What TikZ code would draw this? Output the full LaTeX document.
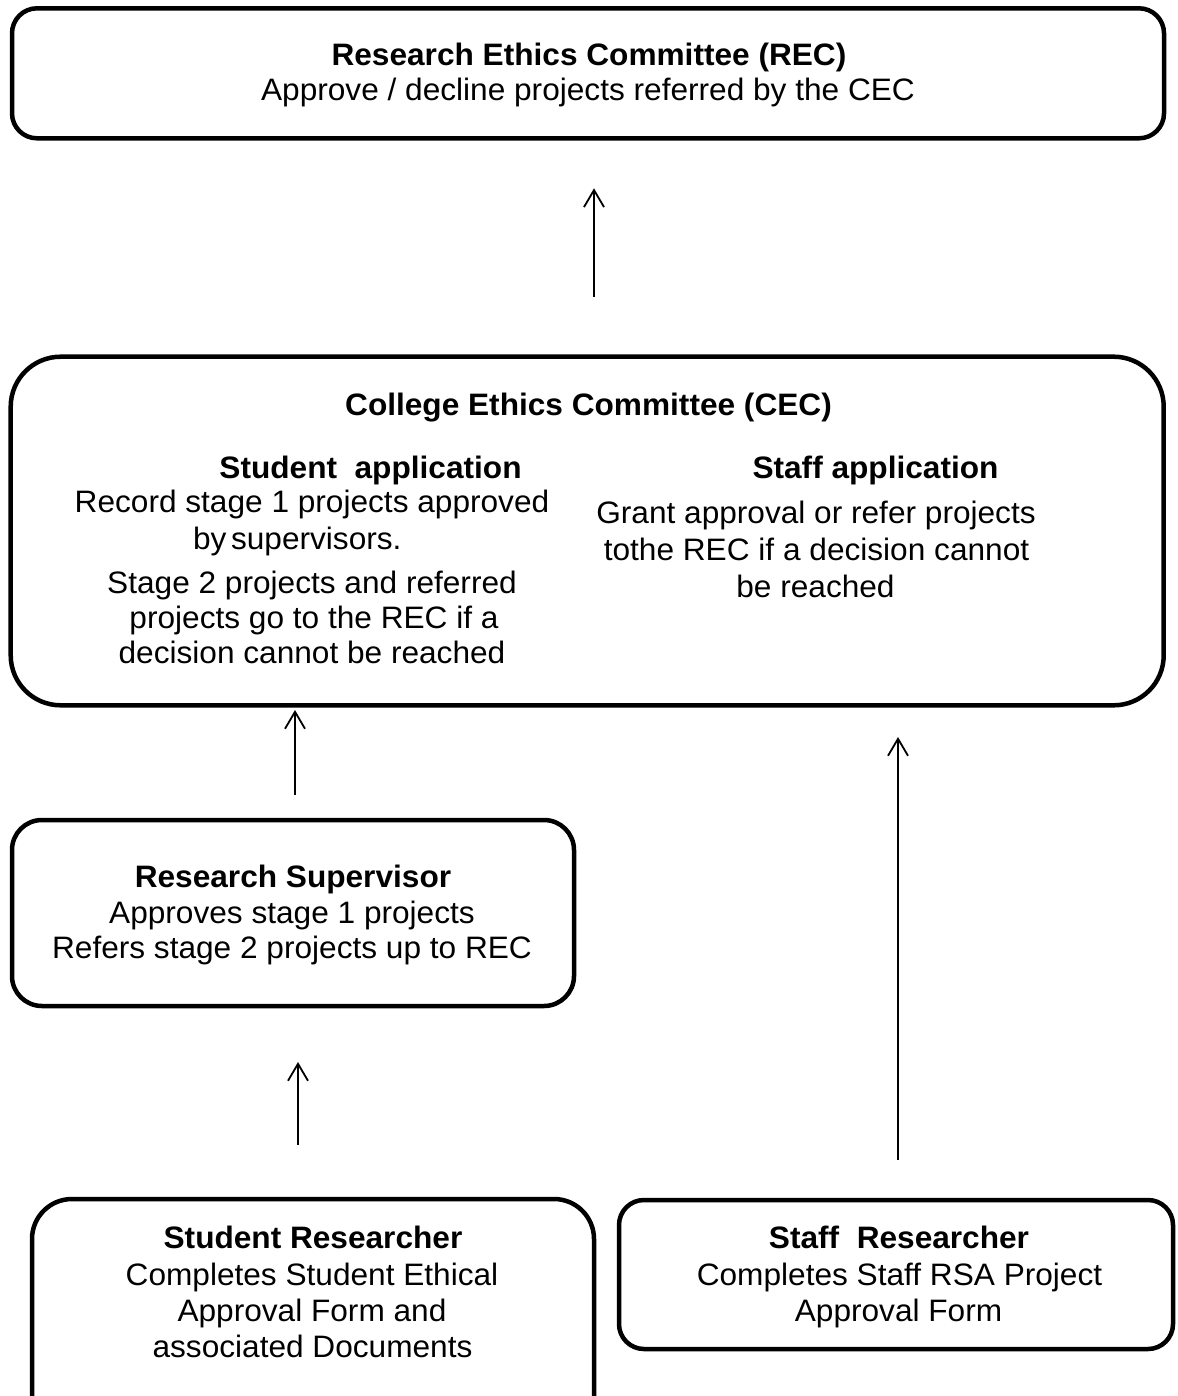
\documentclass[tikz,border=0pt]{standalone}
\usepackage{fontspec}
\setmainfont{Liberation Sans}[FakeStretch=1.02]
\usetikzlibrary{arrows.meta}
\tikzset{
  bx/.style={draw, line width=4.5pt, inner sep=0pt, outer sep=0pt},
  arr/.style={line width=1.8pt, -{Straight Barb[length=17pt,width=20pt]}},
  txt/.style={anchor=base, inner sep=0pt, outer sep=0pt, font=\fontsize{31}{36}\selectfont},
  ttl/.style={txt, font=\fontsize{31}{36}\selectfont\bfseries},
}
\begin{document}
\begin{tikzpicture}[x=1pt,y=-1pt]
\useasboundingbox (0,0) rectangle (1177,1396);
% boxes
\node[bx, rounded corners=25pt, minimum width=1152pt, minimum height=130pt] (rec) at (588,73.3) {};
\node[bx, rounded corners=50pt, minimum width=1153pt, minimum height=348.6pt] (cec) at (587.2,531) {};
\node[bx, rounded corners=30pt, minimum width=562pt, minimum height=186pt] (sup) at (293,913) {};
\node[bx, rounded corners=40pt, minimum width=562pt, minimum height=260pt] (stu) at (313,1329) {};
\node[bx, rounded corners=25pt, minimum width=554pt, minimum height=149pt] (stf) at (896,1274.5) {};
% column coordinates for connectors
\coordinate (xa) at (594,0);
\coordinate (xb) at (295,0);
\coordinate (xc) at (898,0);
\coordinate (xd) at (298,0);
% connectors
\draw[arr, shorten <=60pt, shorten >=50pt] (cec.north -| xa) -- (rec.south -| xa);
\draw[arr, shorten <=25pt, shorten >=4.7pt] (sup.north -| xb) -- (cec.south -| xb);
\draw[arr, shorten <=40pt, shorten >=31.7pt] (stf.north -| xc) -- (cec.south -| xc);
\draw[arr, shorten <=54pt, shorten >=56pt] (stu.north -| xd) -- (sup.south -| xd);
% REC text
\node[ttl] (rect) at (589,66) {Research Ethics Committee (REC)};
\node[txt] (rec1) at (588,100.5) {Approve / decline projects referred by the CEC};
% CEC text
\node[ttl] (cect) at (588.5,415) {College Ethics Committee (CEC)};
\node[ttl] (stut) at (370.5,478) {Student\ \ application};
\node[txt] (stu1) at (312,512) {Record stage 1 projects approved};
\node[txt, anchor=base west] (stu2) at (193,549) {by\hspace{0.15em}supervisors.};
\node[txt] (stu3) at (312,593) {Stage 2 projects and referred};
\node[txt] (stu4) at (314,628) {projects go to the REC if a};
\node[txt] (stu5) at (312,663) {decision cannot be reached};
\node[ttl] (stft) at (875.5,478) {Staff application};
\node[txt] (stf1) at (816,523) {Grant approval or refer projects};
\node[txt] (stf2) at (816.5,560) {tothe REC if a decision cannot};
\node[txt] (stf3) at (815.5,597) {be reached};
% Supervisor text
\node[ttl] (supt) at (293,887) {Research Supervisor};
\node[txt] (sup1) at (292,923) {Approves stage 1 projects};
\node[txt] (sup2) at (292,958) {Refers stage 2 projects up to REC};
% Student researcher text
\node[ttl] (srt) at (313,1248) {Student Researcher};
\node[txt] (sr1) at (312,1285) {Completes Student Ethical};
\node[txt] (sr2) at (312,1321) {Approval Form and};
\node[txt] (sr3) at (312.5,1357) {associated Documents};
% Staff researcher text
\node[ttl] (sft) at (899,1248) {Staff\ \ Researcher};
\node[txt] (sf1) at (899.5,1285) {Completes Staff RSA Project};
\node[txt] (sf2) at (898.5,1321) {Approval Form};
\end{tikzpicture}
\end{document}
